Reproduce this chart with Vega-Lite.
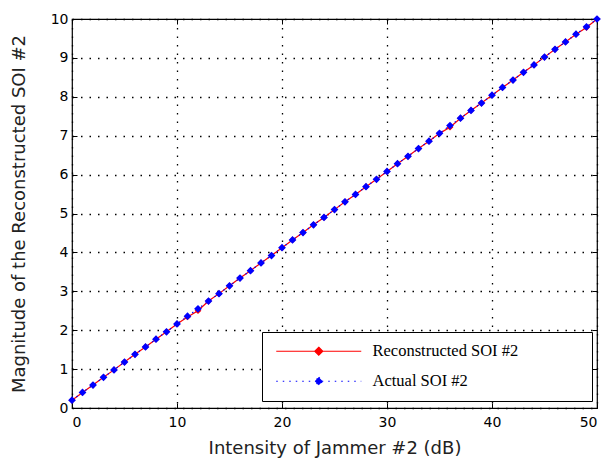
{
  "$schema": "https://vega.github.io/schema/vega-lite/v6.json",
  "width": 525,
  "height": 389,
  "autosize": {"type": "none"},
  "padding": {"left": 72, "top": 19, "right": 9, "bottom": 51},
  "background": "white",
  "config": {
    "view": {"stroke": "black", "strokeWidth": 1.2},
    "axis": {
      "labelFont": "DejaVu Sans",
      "labelFontSize": 14,
      "labelColor": "black",
      "titleFont": "DejaVu Sans",
      "titleFontSize": 18,
      "titleFontWeight": "normal",
      "titleColor": "#222",
      "domain": false,
      "tickColor": "black",
      "tickSize": -5,
      "gridColor": "black",
      "gridDash": [1.5, 7],
      "gridWidth": 1.3,
      "gridOpacity": 1
    }
  },
  "data": {
    "values": [
      {"x": 0, "y": 0.20, "series": "Reconstructed SOI #2"},
      {"x": 1, "y": 0.40, "series": "Reconstructed SOI #2"},
      {"x": 2, "y": 0.59, "series": "Reconstructed SOI #2"},
      {"x": 3, "y": 0.79, "series": "Reconstructed SOI #2"},
      {"x": 4, "y": 0.98, "series": "Reconstructed SOI #2"},
      {"x": 5, "y": 1.18, "series": "Reconstructed SOI #2"},
      {"x": 6, "y": 1.38, "series": "Reconstructed SOI #2"},
      {"x": 7, "y": 1.57, "series": "Reconstructed SOI #2"},
      {"x": 8, "y": 1.77, "series": "Reconstructed SOI #2"},
      {"x": 9, "y": 1.96, "series": "Reconstructed SOI #2"},
      {"x": 10, "y": 2.16, "series": "Reconstructed SOI #2"},
      {"x": 11, "y": 2.34, "series": "Reconstructed SOI #2"},
      {"x": 12, "y": 2.50, "series": "Reconstructed SOI #2"},
      {"x": 13, "y": 2.75, "series": "Reconstructed SOI #2"},
      {"x": 14, "y": 2.94, "series": "Reconstructed SOI #2"},
      {"x": 15, "y": 3.14, "series": "Reconstructed SOI #2"},
      {"x": 16, "y": 3.34, "series": "Reconstructed SOI #2"},
      {"x": 17, "y": 3.53, "series": "Reconstructed SOI #2"},
      {"x": 18, "y": 3.73, "series": "Reconstructed SOI #2"},
      {"x": 19, "y": 3.92, "series": "Reconstructed SOI #2"},
      {"x": 20, "y": 4.12, "series": "Reconstructed SOI #2"},
      {"x": 21, "y": 4.32, "series": "Reconstructed SOI #2"},
      {"x": 22, "y": 4.51, "series": "Reconstructed SOI #2"},
      {"x": 23, "y": 4.71, "series": "Reconstructed SOI #2"},
      {"x": 24, "y": 4.90, "series": "Reconstructed SOI #2"},
      {"x": 25, "y": 5.10, "series": "Reconstructed SOI #2"},
      {"x": 26, "y": 5.30, "series": "Reconstructed SOI #2"},
      {"x": 27, "y": 5.49, "series": "Reconstructed SOI #2"},
      {"x": 28, "y": 5.69, "series": "Reconstructed SOI #2"},
      {"x": 29, "y": 5.88, "series": "Reconstructed SOI #2"},
      {"x": 30, "y": 6.08, "series": "Reconstructed SOI #2"},
      {"x": 31, "y": 6.28, "series": "Reconstructed SOI #2"},
      {"x": 32, "y": 6.47, "series": "Reconstructed SOI #2"},
      {"x": 33, "y": 6.67, "series": "Reconstructed SOI #2"},
      {"x": 34, "y": 6.86, "series": "Reconstructed SOI #2"},
      {"x": 35, "y": 7.06, "series": "Reconstructed SOI #2"},
      {"x": 36, "y": 7.22, "series": "Reconstructed SOI #2"},
      {"x": 37, "y": 7.45, "series": "Reconstructed SOI #2"},
      {"x": 38, "y": 7.65, "series": "Reconstructed SOI #2"},
      {"x": 39, "y": 7.84, "series": "Reconstructed SOI #2"},
      {"x": 40, "y": 8.04, "series": "Reconstructed SOI #2"},
      {"x": 41, "y": 8.24, "series": "Reconstructed SOI #2"},
      {"x": 42, "y": 8.43, "series": "Reconstructed SOI #2"},
      {"x": 43, "y": 8.63, "series": "Reconstructed SOI #2"},
      {"x": 44, "y": 8.82, "series": "Reconstructed SOI #2"},
      {"x": 45, "y": 9.02, "series": "Reconstructed SOI #2"},
      {"x": 46, "y": 9.22, "series": "Reconstructed SOI #2"},
      {"x": 47, "y": 9.41, "series": "Reconstructed SOI #2"},
      {"x": 48, "y": 9.61, "series": "Reconstructed SOI #2"},
      {"x": 49, "y": 9.78, "series": "Reconstructed SOI #2"},
      {"x": 50, "y": 10.00, "series": "Reconstructed SOI #2"},
      {"x": 0, "y": 0.20, "series": "Actual SOI #2"},
      {"x": 1, "y": 0.40, "series": "Actual SOI #2"},
      {"x": 2, "y": 0.59, "series": "Actual SOI #2"},
      {"x": 3, "y": 0.79, "series": "Actual SOI #2"},
      {"x": 4, "y": 0.98, "series": "Actual SOI #2"},
      {"x": 5, "y": 1.18, "series": "Actual SOI #2"},
      {"x": 6, "y": 1.38, "series": "Actual SOI #2"},
      {"x": 7, "y": 1.57, "series": "Actual SOI #2"},
      {"x": 8, "y": 1.77, "series": "Actual SOI #2"},
      {"x": 9, "y": 1.96, "series": "Actual SOI #2"},
      {"x": 10, "y": 2.16, "series": "Actual SOI #2"},
      {"x": 11, "y": 2.36, "series": "Actual SOI #2"},
      {"x": 12, "y": 2.55, "series": "Actual SOI #2"},
      {"x": 13, "y": 2.75, "series": "Actual SOI #2"},
      {"x": 14, "y": 2.94, "series": "Actual SOI #2"},
      {"x": 15, "y": 3.14, "series": "Actual SOI #2"},
      {"x": 16, "y": 3.34, "series": "Actual SOI #2"},
      {"x": 17, "y": 3.53, "series": "Actual SOI #2"},
      {"x": 18, "y": 3.73, "series": "Actual SOI #2"},
      {"x": 19, "y": 3.92, "series": "Actual SOI #2"},
      {"x": 20, "y": 4.12, "series": "Actual SOI #2"},
      {"x": 21, "y": 4.32, "series": "Actual SOI #2"},
      {"x": 22, "y": 4.51, "series": "Actual SOI #2"},
      {"x": 23, "y": 4.71, "series": "Actual SOI #2"},
      {"x": 24, "y": 4.90, "series": "Actual SOI #2"},
      {"x": 25, "y": 5.10, "series": "Actual SOI #2"},
      {"x": 26, "y": 5.30, "series": "Actual SOI #2"},
      {"x": 27, "y": 5.49, "series": "Actual SOI #2"},
      {"x": 28, "y": 5.69, "series": "Actual SOI #2"},
      {"x": 29, "y": 5.88, "series": "Actual SOI #2"},
      {"x": 30, "y": 6.08, "series": "Actual SOI #2"},
      {"x": 31, "y": 6.28, "series": "Actual SOI #2"},
      {"x": 32, "y": 6.47, "series": "Actual SOI #2"},
      {"x": 33, "y": 6.67, "series": "Actual SOI #2"},
      {"x": 34, "y": 6.86, "series": "Actual SOI #2"},
      {"x": 35, "y": 7.06, "series": "Actual SOI #2"},
      {"x": 36, "y": 7.26, "series": "Actual SOI #2"},
      {"x": 37, "y": 7.45, "series": "Actual SOI #2"},
      {"x": 38, "y": 7.65, "series": "Actual SOI #2"},
      {"x": 39, "y": 7.84, "series": "Actual SOI #2"},
      {"x": 40, "y": 8.04, "series": "Actual SOI #2"},
      {"x": 41, "y": 8.24, "series": "Actual SOI #2"},
      {"x": 42, "y": 8.43, "series": "Actual SOI #2"},
      {"x": 43, "y": 8.63, "series": "Actual SOI #2"},
      {"x": 44, "y": 8.82, "series": "Actual SOI #2"},
      {"x": 45, "y": 9.02, "series": "Actual SOI #2"},
      {"x": 46, "y": 9.22, "series": "Actual SOI #2"},
      {"x": 47, "y": 9.41, "series": "Actual SOI #2"},
      {"x": 48, "y": 9.61, "series": "Actual SOI #2"},
      {"x": 49, "y": 9.80, "series": "Actual SOI #2"},
      {"x": 50, "y": 10.00, "series": "Actual SOI #2"}
    ]
  },
  "layer": [
    {
      "transform": [{"filter": "datum.series == 'Reconstructed SOI #2'"}],
      "mark": {"type": "line", "strokeWidth": 1.2},
      "encoding": {
        "x": {"field": "x", "type": "quantitative", "scale": {"domain": [0, 50], "nice": false},
              "axis": {"orient": "bottom", "title": "Intensity of Jammer #2 (dB)", "values": [0, 10, 20, 30, 40, 50], "labelPadding": 12, "titlePadding": 10}},
        "y": {"field": "y", "type": "quantitative", "scale": {"domain": [0, 10], "nice": false},
              "axis": {"orient": "left", "title": "Magnitude of the Reconstructed SOI #2", "values": [0, 1, 2, 3, 4, 5, 6, 7, 8, 9, 10], "labelPadding": 9, "titlePadding": 22}},
        "color": {"field": "series", "type": "nominal",
                  "scale": {"domain": ["Reconstructed SOI #2", "Actual SOI #2"], "range": ["#ff0000", "#0000ff"]},
                  "legend": {
                    "orient": "none", "legendX": 190, "legendY": 313,
                    "title": null,
                    "strokeColor": "black", "fillColor": "white",
                    "padding": 11,
                    "symbolType": "M-1,0H16M7.5,-0.8L8.3,0L7.5,0.8L6.7,0Z",
                    "symbolSize": 100,
                    "symbolStrokeWidth": 1.2,
                    "labelFont": "Liberation Serif",
                    "labelFontSize": 16.5,
                    "labelColor": "black",
                    "labelOffset": 83,
                    "labelLimit": 400,
                    "rowPadding": 13,
                    "labelExpr": "datum.label + '\u00a0\u00a0\u00a0\u00a0\u00a0\u00a0\u00a0\u00a0\u00a0\u00a0\u00a0\u00a0\u00a0\u00a0\u00a0\u2060'",
                    "encode": {
                      "symbols": {
                        "update": {
                          "fill": {"scale": "color", "field": "value"},
                          "stroke": {"scale": "color", "field": "value"},
                          "strokeDash": {"signal": "datum.value == 'Actual SOI #2' ? [1.5, 5] : []"},
                          "opacity": {"value": 1}
                        }
                      }
                    }
                  }}
      }
    },
    {
      "transform": [{"filter": "datum.series == 'Reconstructed SOI #2'"}],
      "mark": {"type": "point", "shape": "diamond", "filled": true, "size": 45, "opacity": 1},
      "encoding": {
        "x": {"field": "x", "type": "quantitative", "axis": null},
        "y": {"field": "y", "type": "quantitative", "axis": null},
        "color": {"field": "series", "type": "nominal"}
      }
    },
    {
      "transform": [{"filter": "datum.series == 'Actual SOI #2'"}],
      "mark": {"type": "line", "strokeWidth": 1.2, "strokeDash": [1.5, 4]},
      "encoding": {
        "x": {"field": "x", "type": "quantitative", "axis": null},
        "y": {"field": "y", "type": "quantitative", "axis": null},
        "color": {"field": "series", "type": "nominal"}
      }
    },
    {
      "transform": [{"filter": "datum.series == 'Actual SOI #2'"}],
      "mark": {"type": "point", "shape": "diamond", "filled": true, "size": 60, "opacity": 1},
      "encoding": {
        "x": {"field": "x", "type": "quantitative",
              "axis": {"orient": "top", "labels": false, "grid": false, "title": null, "values": [0, 10, 20, 30, 40, 50]}},
        "y": {"field": "y", "type": "quantitative",
              "axis": {"orient": "right", "labels": false, "grid": false, "title": null, "values": [0, 1, 2, 3, 4, 5, 6, 7, 8, 9, 10]}},
        "color": {"field": "series", "type": "nominal"}
      }
    }
  ],
  "resolve": {"axis": {"x": "independent", "y": "independent"}}
}
